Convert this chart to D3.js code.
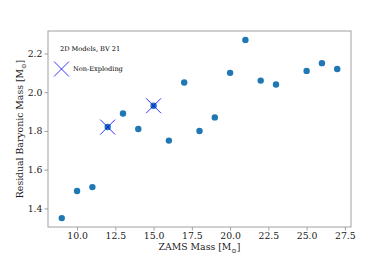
<!DOCTYPE html>
<html>
<head>
<meta charset="utf-8">
<script src="https://cdn.jsdelivr.net/npm/d3@7"></script>
<style>
  body { margin: 0; background: #fff; }
  svg { font-family: "DejaVu Serif", serif; }
</style>
</head>
<body>
<div id="chart"></div>
<script>
// donnees
const zamsMass = [9, 10, 11, 12, 13, 14, 15, 16, 17, 18, 19, 20, 21, 22, 23, 25, 26, 27];
const residualMass = [1.35, 1.49, 1.51, 1.82, 1.89, 1.81, 1.93, 1.75, 2.05, 1.80, 1.87, 2.10, 2.27, 2.06, 2.04, 2.11, 2.15, 2.12];
const nonExploding = [12, 15];
const xTicks = [10.0, 12.5, 15.0, 17.5, 20.0, 22.5, 25.0, 27.5];
const yTicks = [1.4, 1.6, 1.8, 2.0, 2.2];

const W = 390, H = 260;
const margin = {top: 31, right: 39, bottom: 33, left: 48};
const width = W - margin.left - margin.right,
      height = H - margin.top - margin.bottom;

const svg = d3.select("#chart").append("svg")
    .attr("width", W).attr("height", H);
const g = svg.append("g").attr("transform", `translate(${margin.left},${margin.top})`);

const x = d3.scaleLinear().domain([8.1, 27.9]).range([0, width]);
const y = d3.scaleLinear().domain([1.304, 2.316]).range([height, 0]);

// axes
const xAxis = g.append("g").attr("transform", `translate(0,${height})`)
    .call(d3.axisBottom(x).tickValues(xTicks).tickFormat(d3.format(".1f")).tickSizeOuter(0).tickSize(3.5).tickPadding(2));
const yAxis = g.append("g")
    .call(d3.axisLeft(y).tickValues(yTicks).tickFormat(d3.format(".1f")).tickSizeOuter(0).tickSize(3.5).tickPadding(2));
[xAxis, yAxis].forEach(a => {
  a.select(".domain").remove();
  a.selectAll(".tick line").attr("stroke", "#888").attr("stroke-width", 0.8);
  a.selectAll(".tick text").attr("fill", "#1a1a1a").style("font-size", "9.3px").style("font-family", "DejaVu Serif");
});

// cadre
g.append("rect").attr("width", width).attr("height", height)
    .attr("fill", "none").attr("stroke", "#a0a0a0").attr("stroke-width", 1);

// points
g.selectAll("circle.pt").data(zamsMass.map((m, i) => ({m, v: residualMass[i]})))
  .join("circle").attr("class", "pt")
  .attr("cx", d => x(d.m)).attr("cy", d => y(d.v)).attr("r", 3.2)
  .attr("fill", "#1f77b4");

// croix pour les non-explosions
const s = 7.5;
const crossData = zamsMass.map((m, i) => ({m, v: residualMass[i]})).filter(d => nonExploding.includes(d.m));
const crosses = g.selectAll("g.cross").data(crossData).join("g").attr("class", "cross")
  .attr("transform", d => `translate(${x(d.m)},${y(d.v)})`);
crosses.append("path").attr("d", `M${-s},${-s}L${s},${s}M${-s},${s}L${s},${-s}`)
  .attr("stroke", "#0000ff").attr("stroke-width", 0.8).attr("fill", "none");

// legende
const leg = g.append("g").attr("transform", "translate(12,18)");
leg.append("text").attr("x", 0).attr("y", 0).attr("dy", "0.35em")
  .style("font-size", "6.6px").attr("fill", "#000").text("2D Models, BV 21");
leg.append("path").attr("transform", "translate(1.5,20)")
  .attr("d", `M${-s},${-s}L${s},${s}M${-s},${s}L${s},${-s}`)
  .attr("stroke", "#0000ff").attr("stroke-width", 0.8).attr("fill", "none");
leg.append("text").attr("x", 13).attr("y", 20).attr("dy", "0.35em")
  .style("font-size", "6.6px").attr("fill", "#000").text("Non-Exploding");

// titres des axes
const xl = svg.append("text").attr("x", margin.left + width / 2).attr("y", 250)
  .attr("text-anchor", "middle").style("font-size", "9.3px").attr("fill", "#1a1a1a");
xl.append("tspan").text("ZAMS Mass [M");
xl.append("tspan").attr("dy", 2.5).style("font-size", "6.5px").text("⊙");
xl.append("tspan").attr("dy", -2.5).text("]");

const yl = svg.append("text")
  .attr("transform", `translate(23,${margin.top + height / 2}) rotate(-90)`)
  .attr("text-anchor", "middle").style("font-size", "9.3px").attr("fill", "#1a1a1a");
yl.append("tspan").text("Residual Baryonic Mass [M");
yl.append("tspan").attr("dy", 2.5).style("font-size", "6.5px").text("⊙");
yl.append("tspan").attr("dy", -2.5).text("]");
</script>
</body>
</html>
